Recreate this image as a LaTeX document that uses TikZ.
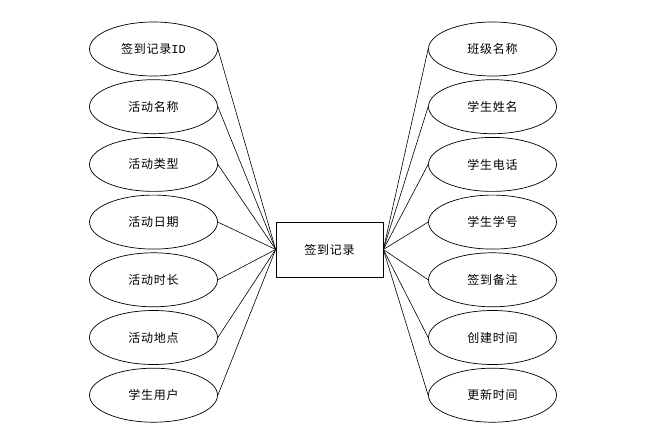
\documentclass[tikz,border=0pt]{standalone}
\usepackage{fontspec}
\newfontfamily\cjk[LetterSpace=6]{Noto Sans CJK SC}
\newfontfamily\latn{Liberation Mono}
\usetikzlibrary{shapes.geometric}

\begin{document}
\begin{tikzpicture}[x=1pt, y=-1pt, line cap=round, line join=round,
    attr/.style={draw, ellipse, line width=0.7pt, minimum width=128pt, minimum height=54pt, inner sep=0pt, font=\cjk\fontsize{12}{14}\selectfont},
    entity/.style={draw, rectangle, line width=0.7pt, minimum width=107pt, minimum height=55pt, inner sep=0pt, font=\cjk\fontsize{12}{14}\selectfont},
    link/.style={line width=0.6pt}]

  % Rahmen festlegen
  \useasboundingbox (0,0) rectangle (646,441);

  % Entitaet in der Mitte
  \node[entity] (rec) at (329.5,249.5) {签到记录};

  % Attribute links
  \foreach \i/\txt in {1/签到记录{\latn ID}, 2/活动名称, 3/活动类型, 4/活动日期, 5/活动时长, 6/活动地点, 7/学生用户} {
    \node[attr] (l\i) at (153.5,{49+57.7*(\i-1)}) {\txt};
    \draw[link] (l\i.east) -- (rec.west);   % Verbindung zur Entitaet
  }

  % Attribute rechts
  \foreach \i/\txt in {1/班级名称, 2/学生姓名, 3/学生电话, 4/学生学号, 5/签到备注, 6/创建时间, 7/更新时间} {
    \node[attr] (r\i) at (492.5,{49+57.7*(\i-1)}) {\txt};
    \draw[link] (r\i.west) -- (rec.east);
  }

\end{tikzpicture}
\end{document}
